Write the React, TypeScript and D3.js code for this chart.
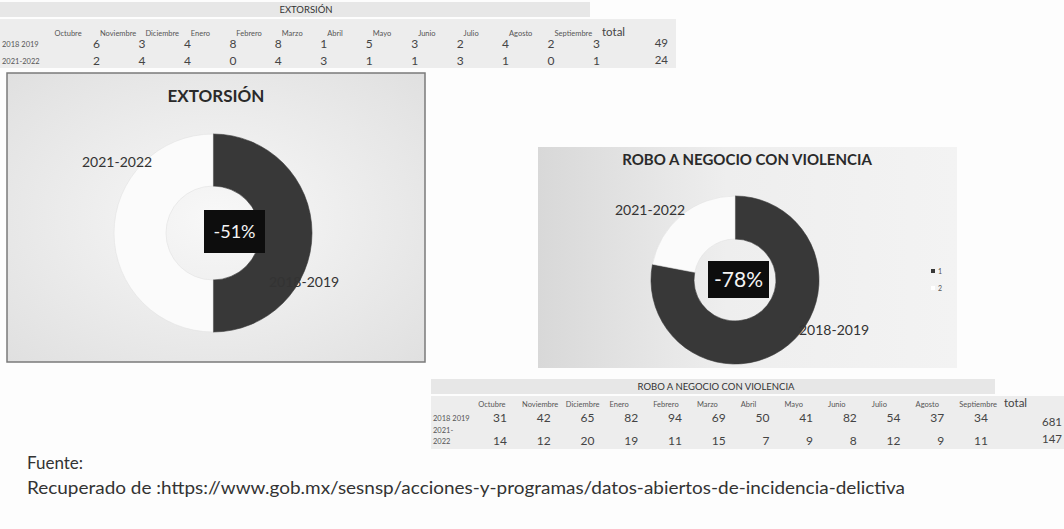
import * as d3 from 'd3';
import React, { useEffect, useRef } from 'react';

// table data, read from the scanned page
const months = ['Octubre', 'Noviembre', 'Diciembre', 'Enero', 'Febrero', 'Marzo', 'Abril', 'Mayo', 'Junio', 'Julio', 'Agosto', 'Septiembre'];
const extorsion2018 = [6, 3, 4, 8, 8, 1, 5, 3, 2, 4, 2, 3];
const extorsion2021 = [2, 4, 4, 0, 4, 3, 1, 1, 3, 1, 0, 1];
const robo2018 = [31, 42, 65, 82, 94, 69, 50, 41, 82, 54, 37, 34];
const robo2021 = [14, 12, 20, 19, 11, 15, 7, 9, 8, 12, 9, 11];

// donut slices as they are drawn in the picture (2018-2019, 2021-2022)
const donutLabels = ['2018-2019', '2021-2022'];
const extorsionShares = [50, 50];
const roboShares = [78, 22];
const legendLabels = ['1', '2'];

const FONT = 'Lato, "Open Sans", sans-serif';
const DARK = '#383838';
const LIGHT = '#fbfbfb';

type Sel = d3.Selection<SVGGElement, unknown, null, undefined>;

interface TableOpts {
    left: number; x0: number; x1: number; top: number; hdrY: number; colW: number; hdrOff: number;
    totalHdrX: number; totalX: number; rowYs: number[]; totalYs: number[]; bandRight: number; bodyRight: number; bodyBottom: number; titleX: number;
}

function drawTable(parent: Sel, title: string, rows: { label: string[]; values: number[] }[], o: TableOpts) {
    const g = parent.append('g');
    const x = d3.scaleLinear().domain([0, months.length - 1]).range([o.x0, o.x1]);

    // shaded cells, like the spreadsheet print
    g.append('rect').attr('x', o.left).attr('y', o.top).attr('width', o.bandRight - o.left).attr('height', 15).attr('fill', '#e7e7e7');
    g.append('rect').attr('x', o.left).attr('y', o.top + 17).attr('width', o.bodyRight - o.left).attr('height', o.bodyBottom - o.top - 17).attr('fill', '#ededed');

    g.append('text')
        .attr('x', o.titleX)
        .attr('y', o.top + 11)
        .attr('text-anchor', 'middle')
        .attr('font-size', 9.5)
        .attr('fill', '#333')
        .text(title);

    g.selectAll('text.month')
        .data(months)
        .enter()
        .append('text')
        .attr('class', 'month')
        .attr('x', (_, i) => x(i) - o.colW + o.hdrOff)
        .attr('y', o.hdrY)
        .attr('font-size', 7.5)
        .attr('fill', '#555')
        .text(d => d);

    g.append('text')
        .attr('x', o.totalHdrX)
        .attr('y', o.hdrY)
        .attr('font-size', 11.5)
        .attr('fill', '#444')
        .text('total');

    rows.forEach((r, ri) => {
        const y = o.rowYs[ri];
        r.label.forEach((l, li) => {
            g.append('text')
                .attr('x', o.left + 2)
                .attr('y', y + 3 + (r.label.length > 1 ? (li - 1) * 11 : 0))
                .attr('font-size', 7.5)
                .attr('fill', '#555')
                .text(l);
        });
        g.selectAll(`text.v${ri}`)
            .data(r.values)
            .enter()
            .append('text')
            .attr('class', `v${ri}`)
            .attr('x', (_, i) => x(i))
            .attr('y', y + 4)
            .attr('text-anchor', 'end')
            .attr('font-size', 12)
            .attr('fill', '#444')
            .text(d => d);
        g.append('text')
            .attr('x', o.totalX)
            .attr('y', o.totalYs[ri] + 4)
            .attr('text-anchor', 'end')
            .attr('font-size', 11.5)
            .attr('fill', '#444')
            .text(d3.sum(r.values));
    });
}

interface DonutOpts {
    cx: number; cy: number; r0: number; r1: number; titleY: number; titleSize: number; titleX: number;
    boxX: number; boxY: number; boxW: number; boxH: number; pctSize: number; lbl: [number, number][]; lblSize: number;
}

function drawDonut(g: Sel, title: string, shares: number[], change: number, o: DonutOpts) {
    g.append('text')
        .attr('x', o.titleX)
        .attr('y', o.titleY)
        .attr('text-anchor', 'middle')
        .attr('font-size', o.titleSize)
        .attr('font-weight', 700)
        .attr('fill', '#2a2a2a')
        .text(title);

    const pie = d3.pie<number>().sort(null).value(d => d);
    const arc = d3.arc<d3.PieArcDatum<number>>().innerRadius(o.r0).outerRadius(o.r1);
    const color = d3.scaleOrdinal<number, string>().domain([0, 1]).range([DARK, LIGHT]);

    g.append('g')
        .attr('transform', `translate(${o.cx},${o.cy})`)
        .selectAll('path')
        .data(pie(shares))
        .enter()
        .append('path')
        .attr('d', arc)
        .attr('fill', (_, i) => color(i))
        .attr('stroke', (_, i) => (i === 1 ? '#e2e2e2' : DARK))
        .attr('stroke-width', 0.6);

    g.append('rect')
        .attr('x', o.boxX)
        .attr('y', o.boxY)
        .attr('width', o.boxW)
        .attr('height', o.boxH)
        .attr('fill', '#0d0d0d');
    g.append('text')
        .attr('x', o.boxX + o.boxW / 2)
        .attr('y', o.boxY + o.boxH / 2 + o.pctSize * 0.36)
        .attr('text-anchor', 'middle')
        .attr('font-size', o.pctSize)
        .attr('fill', '#f4f4f4')
        .text(d3.format('.0%')(change).replace('−', '-'));

    donutLabels.forEach((l, i) => {
        g.append('text')
            .attr('x', o.lbl[i][0])
            .attr('y', o.lbl[i][1])
            .attr('font-size', o.lblSize)
            .attr('fill', '#333')
            .text(l);
    });
}

const App: React.FC = () => {
    const svgRef = useRef<SVGSVGElement | null>(null);

    useEffect(() => {
        const svg = d3.select(svgRef.current);
        svg.selectAll('*').remove();
        svg.attr('font-family', FONT);

        const defs = svg.append('defs');
        const grad = defs.append('radialGradient').attr('id', 'bg').attr('cx', '50%').attr('cy', '50%').attr('r', '70%');
        grad.append('stop').attr('offset', '0%').attr('stop-color', '#f8f8f8');
        grad.append('stop').attr('offset', '100%').attr('stop-color', '#e0e0e0');
        const grad2 = defs.append('linearGradient').attr('id', 'bg2').attr('x1', '0').attr('x2', '1');
        grad2.append('stop').attr('offset', '0%').attr('stop-color', '#d8d8d8');
        grad2.append('stop').attr('offset', '45%').attr('stop-color', '#eeeeee');
        grad2.append('stop').attr('offset', '100%').attr('stop-color', '#f3f3f3');

        svg.append('rect').attr('width', 1064).attr('height', 529).attr('fill', '#fdfdfd');

        const root = svg.append('g') as unknown as Sel;

        // top table
        drawTable(
            root,
            'EXTORSIÓN',
            [
                { label: ['2018 2019'], values: extorsion2018 },
                { label: ['2021-2022'], values: extorsion2021 },
            ],
            {
                left: 0, x0: 100, x1: 600, top: 2, hdrY: 36, colW: 45.5, hdrOff: 0, titleX: 306,
                totalHdrX: 602, totalX: 668, rowYs: [44, 61], totalYs: [43, 60], bandRight: 590, bodyRight: 676, bodyBottom: 68,
            }
        );

        // extortion donut panel
        root.append('rect').attr('x', 7).attr('y', 73).attr('width', 418).attr('height', 289)
            .attr('fill', 'url(#bg)').attr('stroke', '#7a7a7a').attr('stroke-width', 1.5);
        drawDonut(root, 'EXTORSIÓN', extorsionShares, d3.sum(extorsion2021) / d3.sum(extorsion2018) - 1, {
            cx: 213, cy: 233, r0: 47, r1: 99, titleY: 102, titleSize: 17, titleX: 216,
            boxX: 204, boxY: 210, boxW: 61, boxH: 43, pctSize: 18,
            lbl: [[269, 287], [82, 167]], lblSize: 14,
        });

        // robbery donut panel
        root.append('rect').attr('x', 538).attr('y', 147).attr('width', 419).attr('height', 221).attr('fill', 'url(#bg2)');
        drawDonut(root, 'ROBO A NEGOCIO CON VIOLENCIA', roboShares, d3.sum(robo2021) / d3.sum(robo2018) - 1, {
            cx: 735, cy: 280, r0: 41, r1: 84, titleY: 165, titleSize: 15, titleX: 747,
            boxX: 708, boxY: 261, boxW: 61, boxH: 37, pctSize: 21,
            lbl: [[799, 335], [615, 215]], lblSize: 14,
        });

        // tiny legend
        legendLabels.forEach((l, i) => {
            root.append('rect').attr('x', 931).attr('y', 269 + i * 17).attr('width', 4).attr('height', 4)
                .attr('fill', i === 0 ? DARK : '#fff');
            root.append('text').attr('x', 938).attr('y', 274 + i * 17).attr('font-size', 7).attr('fill', '#555').text(l);
        });

        // bottom table
        drawTable(
            root,
            'ROBO A NEGOCIO CON VIOLENCIA',
            [
                { label: ['2018 2019'], values: robo2018 },
                { label: ['2021-', '2022'], values: robo2021 },
            ],
            {
                left: 431, x0: 507, x1: 988, top: 379, hdrY: 407, colW: 43.7, hdrOff: 15, titleX: 716,
                totalHdrX: 1004, totalX: 1062, rowYs: [418, 441], totalYs: [422, 439], bandRight: 995, bodyRight: 1064, bodyBottom: 449,
            }
        );

        // source
        root.append('text').attr('x', 27).attr('y', 469).attr('font-size', 17).attr('fill', '#333').text('Fuente:');
        root.append('text').attr('x', 27).attr('y', 494).attr('font-size', 17).attr('fill', '#333')
            .attr('textLength', 878).attr('lengthAdjust', 'spacingAndGlyphs')
            .text('Recuperado de :https://www.gob.mx/sesnsp/acciones-y-programas/datos-abiertos-de-incidencia-delictiva');
    }, []);

    return <svg ref={svgRef} width={1064} height={529} style={{ position: 'absolute', left: 0, top: 0 }}></svg>;
};

export default App;
